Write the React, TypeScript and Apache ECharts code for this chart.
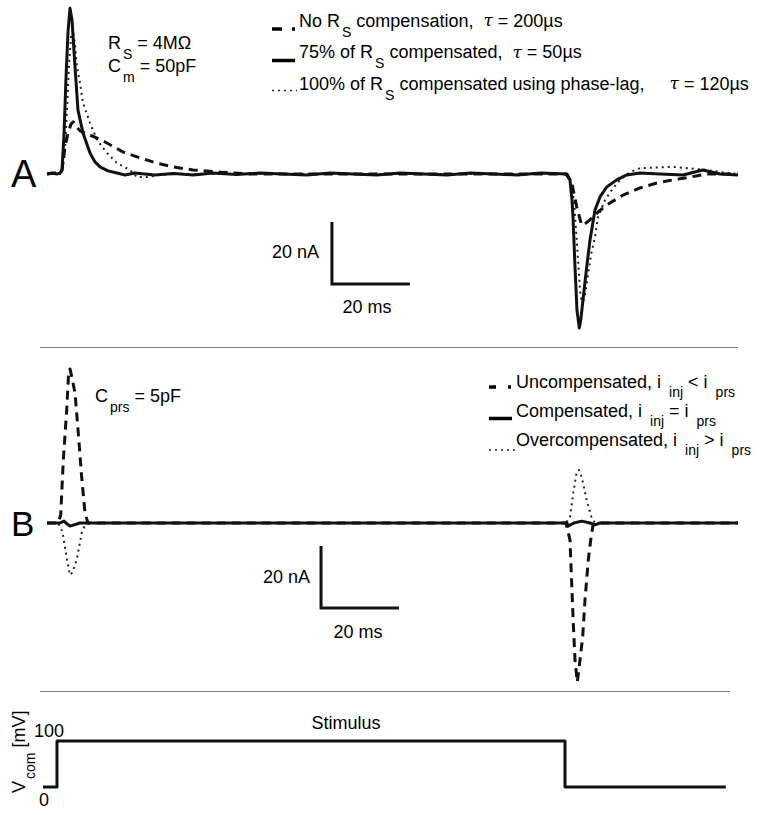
import React, { useEffect, useRef } from "react";
import * as echarts from "echarts";

// ---------- data (time in ms, current in nA, voltage in mV) ----------
// Panel A: series-resistance compensation
const aNoComp: number[][] = [
  [-2.56, 0], [-0.51, 0.3], [0.77, 0], [1.28, 1.3], [2.05, 8.7], [2.82, 13.2], [3.59, 16.1], [4.18, 16.8],
  [4.87, 15.5], [5.9, 13.9], [7.69, 12.9], [9.74, 11.9], [12.82, 10], [16.92, 7.1], [21.28, 5.2], [25.64, 3.5],
  [29.74, 2.3], [34.87, 1.3], [41.8, 0.6], [49.5, 0], [130.5, 0], [132, -2.9], [133.26, -10.6], [134.54, -16.5],
  [135.64, -15.8], [136.67, -14.8], [138.7, -12.3], [140.95, -10], [145.13, -6.8], [149.49, -4.5], [153.77, -2.9],
  [157.95, -1.9], [162.3, -1], [166.6, 0], [174.6, 0],
];
const a75Comp: number[][] = [
  [-2.56, 0], [-1.28, 0.3], [0, 0], [0.77, 0.3], [1.28, 1.3], [1.79, 12.6], [2.31, 31], [2.82, 45.8], [3.33, 53.5],
  [3.85, 49.7], [4.62, 34.5], [5.38, 20.6], [6.67, 13.2], [8.46, 6.8], [9.74, 3.9], [11.03, 2.3], [13.08, 1],
  [15.38, 0.3], [17.44, -0.3], [20, 0.3], [25, -0.3], [30, 0.2], [35, -0.3], [40, 0.3], [46, -0.2], [52, 0.3],
  [58, 0], [64, -0.3], [70, 0.3], [76, 0], [82, -0.3], [88, 0.3], [94, 0], [100, -0.3], [106, 0.3], [112, 0],
  [118, -0.3], [124, 0.3], [130.77, 0], [131.54, -1.9], [132.05, -8.4], [132.31, -13.9], [132.82, -30],
  [133.33, -43.9], [133.92, -49.7], [134.36, -46.5], [134.87, -40.6], [135.82, -30], [136.67, -21.3],
  [137.95, -11.6], [139.23, -7.4], [140.95, -4.2], [143.51, -1.9], [146.08, -0.3], [149.49, 0.3], [154.6, 0],
  [160.5, -0.3], [165.6, 1.3], [170, 0], [174.6, -0.3],
];
const a100Comp: number[][] = [
  [-2.56, 0], [0.77, 0], [1.54, 1.9], [2.05, 7.7], [2.56, 20.6], [3.08, 35.2], [3.59, 44], [4.1, 46.5],
  [4.62, 41.6], [5.13, 34.5], [5.9, 29.4], [6.67, 22.9], [8.46, 16.5], [10.26, 11], [12.82, 6.8], [15.38, 3.5],
  [18.72, 1.3], [20.5, -1], [23.08, -1], [26.4, -0.3], [30.26, 0], [130.26, 0], [131.54, -1.3], [132.56, -8.4],
  [133.33, -22.9], [134.1, -37.4], [134.62, -42.3], [135.38, -39], [136.15, -32.6], [136.92, -26.1],
  [137.95, -20.3], [138.72, -13.9], [140.51, -8.4], [142.23, -5.2], [144.36, -1.9], [146.92, 0.6],
  [149.49, 1.9], [157.95, 2.3], [166.67, 1.3], [171.8, 0.3], [174.6, 0],
];

// Panel B: pipette capacitance compensation
const bUncomp: number[][] = [
  [-2.56, 0], [0.26, 0], [0.95, 2.6], [1.62, 20.3], [2.49, 36.5], [2.95, 47.7], [3.33, 49.7], [3.85, 46.8],
  [4.62, 41.9], [5.46, 29], [6.33, 14.8], [7.18, 3.2], [7.95, 0], [130.5, 0], [131.54, -5.5], [131.97, -19.4],
  [132.38, -32.3], [132.82, -44.2], [133.41, -51.3], [134.1, -44.2], [134.79, -36.8], [135.38, -24.8],
  [136.23, -11.9], [136.85, -5.5], [137.44, -0.6], [138.2, 0], [174.6, 0],
];
const bComp: number[][] = [
  [-2.56, 0], [0.77, 0], [1.79, 0.6], [2.31, 0], [3.33, -1], [4.36, -0.6], [5.9, 0], [130.77, 0], [131.03, -1],
  [132.56, 0], [134.54, 0.6], [136.67, 0], [137.95, -0.6], [139.2, 0], [174.6, 0],
];
const bOvercomp: number[][] = [
  [-2.56, 0], [0.26, 0], [1.21, -2.3], [1.54, -3.9], [2.56, -11.9], [3.33, -16.8], [3.85, -16.1], [5.05, -11.9],
  [6.33, -3.2], [7.18, -0.6], [8.46, 0], [130.5, 0], [131.03, 1], [131.54, 1.9], [132.38, 9.7], [133.26, 16.5],
  [133.85, 17.1], [134.54, 14.8], [135.82, 7.4], [137.1, 1.6], [137.95, 0], [174.6, 0],
];

// Stimulus (command voltage)
const stimulus: number[][] = [[-3.59, 0], [0, 0], [0, 100], [130.26, 100], [130.26, 0], [171.5, 0]];

// Scale bars (20 nA / 20 ms)
const SCALE_NA = 20;
const SCALE_MS = 20;
const scaleOriginA = [70.5, -35.5];
const scaleOriginB = [67.7, -27.4];

// ---------- layout ----------
const X_MIN = -14.615;
const X_MAX = 180.256;
const FONT = '"Liberation Sans", Arial, Helvetica, sans-serif';
const NB = "\u00A0";

const RICH: any = {
  t: { fontFamily: FONT, fontSize: 18, lineHeight: 20, verticalAlign: "top", fill: "#000" },
  s: { fontFamily: FONT, fontSize: 14, lineHeight: 14, verticalAlign: "top", fill: "#000", padding: [13, 0, 0, 2] },
  s2: { fontFamily: FONT, fontSize: 14, lineHeight: 14, verticalAlign: "top", fill: "#000", padding: [12, 0, 0, 8] },
  tau: { fontFamily: '"DejaVu Serif", serif', fontStyle: "italic", fontSize: 17, lineHeight: 20, verticalAlign: "top", fill: "#000" },
};

const sp = (s: string) => s.replace(/ /g, NB);

function rtext(x: number, y: number, parts: string, extra: any = {}) {
  return {
    type: "text",
    x,
    y,
    silent: true,
    style: { text: parts, rich: RICH, fontFamily: FONT, fontSize: 18, fill: "#000", align: "left", verticalAlign: "top" },
    ...extra,
  };
}

function ptext(x: number, y: number, text: string, size: number, align = "left") {
  return {
    type: "text",
    x,
    y,
    silent: true,
    style: { text, fontFamily: FONT, fontSize: size, fill: "#000", align, verticalAlign: "middle" },
  };
}

function gline(x1: number, y1: number, x2: number, y2: number, w: number, color = "#000", dash?: number[]) {
  return {
    type: "line",
    silent: true,
    shape: { x1, y1, x2, y2 },
    style: { stroke: color, lineWidth: w, lineDash: dash, lineCap: "butt" },
  };
}

function lineSeries(data: number[][], idx: number, kind: "solid" | "dashed" | "dotted", z = 2) {
  const ls: any =
    kind === "solid"
      ? { color: "#111", width: 3, type: "solid" }
      : kind === "dashed"
      ? { color: "#111", width: 3, type: [9, 6] }
      : { color: "#222", width: 2, type: [2, 4] };
  return {
    type: "line",
    xAxisIndex: idx,
    yAxisIndex: idx,
    data,
    showSymbol: false,
    symbol: "none",
    clip: false,
    silent: true,
    z,
    lineStyle: { ...ls, join: "round", cap: "butt" },
  };
}

function scaleBar(origin: number[], idx: number) {
  const [t0, v0] = origin;
  return {
    type: "line",
    xAxisIndex: idx,
    yAxisIndex: idx,
    data: [[t0, v0 + SCALE_NA], [t0, v0], [t0 + SCALE_MS, v0]],
    showSymbol: false,
    symbol: "none",
    clip: false,
    silent: true,
    lineStyle: { color: "#111", width: 3, join: "miter", cap: "butt" },
  };
}

export default function App() {
  const ref = useRef<HTMLDivElement>(null);
  useEffect(() => {
    const chart = echarts.init(ref.current!, null, { renderer: "svg" });
    const option: any = {
      animation: false,
      backgroundColor: "#fff",
      grid: [
        { left: 0, top: 0, width: 760, height: 340 },
        { left: 0, top: 350, width: 760, height: 340 },
        { left: 0, top: 700, width: 760, height: 100 },
      ],
      xAxis: [0, 1, 2].map((i) => ({ type: "value", gridIndex: i, min: X_MIN, max: X_MAX, show: false })),
      yAxis: [
        { type: "value", gridIndex: 0, min: -53.548, max: 56.129, show: false },
        { type: "value", gridIndex: 1, min: -53.871, max: 55.806, show: false },
        { type: "value", gridIndex: 2, min: -28.26, max: 189.13, show: false },
      ],
      series: [
        lineSeries(a100Comp, 0, "dotted", 2),
        lineSeries(aNoComp, 0, "dashed", 3),
        lineSeries(a75Comp, 0, "solid", 4),
        scaleBar(scaleOriginA, 0),
        lineSeries(bOvercomp, 1, "dotted", 2),
        lineSeries(bUncomp, 1, "dashed", 3),
        lineSeries(bComp, 1, "solid", 4),
        scaleBar(scaleOriginB, 1),
        lineSeries(stimulus, 2, "solid", 4),
      ],
      graphic: [
        // separators
        gline(40, 347.5, 738, 347.5, 1, "#808080"),
        gline(40, 691.5, 730, 691.5, 1, "#808080"),
        // panel letters
        ptext(11, 174, "A", 38),
        ptext(11, 523, "B", 35),
        // panel A annotations
        rtext(108, 33.5, `{t|R}{s|S}{t|${sp(" = 4MΩ")}}`),
        rtext(108, 56.5, `{t|C}{s|m}{t|${sp(" = 50pF")}}`),
        // legend A
        gline(272, 29, 282, 29, 3.5),
        gline(292, 29, 295, 29, 3.5),
        rtext(299, 11.5, `{t|No R}{s|S}{t|${sp(" compensation,  ")}}{tau|τ}{t|${sp(" = 200µs")}}`),
        gline(272, 60.5, 295, 60.5, 3.5),
        rtext(299, 43, `{t|75% of R}{s|S}{t|${sp(" compensated,  ")}}{tau|τ}{t|${sp(" = 50µs")}}`),
        gline(272, 90.5, 297, 90.5, 1.5, "#222", [2, 4]),
        rtext(299, 74.5, `{t|100% of R}{s|S}{t|${sp(" compensated using phase-lag,     ")}}{tau|τ}{t|${sp(" = 120µs")}}`),
        // scale bar labels A
        ptext(319, 252, "20 nA", 18, "right"),
        ptext(367, 307, "20 ms", 18, "center"),
        // panel B annotations
        rtext(95, 386.5, `{t|C}{s|prs}{t|${sp(" = 5pF")}}`),
        // legend B
        gline(489, 387, 496, 387, 3.5),
        gline(508, 387, 511, 387, 3.5),
        rtext(516, 372.5, `{t|${sp("Uncompensated, i")}}{s2|inj}{t|${sp(" < i")}}{s2|prs}`),
        gline(489, 418.5, 512, 418.5, 3.5),
        rtext(516, 401.5, `{t|${sp("Compensated, i")}}{s2|inj}{t|${sp(" = i")}}{s2|prs}`),
        gline(489, 450, 515, 450, 1.5, "#222", [2, 4]),
        rtext(516, 431, `{t|${sp("Overcompensated, i")}}{s2|inj}{t|${sp(" > i")}}{s2|prs}`),
        // scale bar labels B
        ptext(310, 577, "20 nA", 18, "right"),
        ptext(358, 632, "20 ms", 18, "center"),
        // stimulus panel
        ptext(346, 723, "Stimulus", 18, "center"),
        ptext(34, 731, "100", 18, "left"),
        ptext(39, 800, "0", 18, "left"),
        {
          type: "text",
          x: 10,
          y: 793,
          rotation: Math.PI / 2,
          silent: true,
          style: {
            text: `{t|V}{s|com}{t|${sp(" [mV]")}}`,
            rich: RICH,
            fontFamily: FONT,
            fontSize: 18,
            fill: "#000",
            align: "left",
            verticalAlign: "top",
          },
        },
      ],
    };
    chart.setOption(option);
    return () => chart.dispose();
  }, []);
  return (
    <div
      ref={ref}
      style={{ position: "fixed", left: 0, top: 0, width: 760, height: 815, background: "#fff" }}
    />
  );
}
